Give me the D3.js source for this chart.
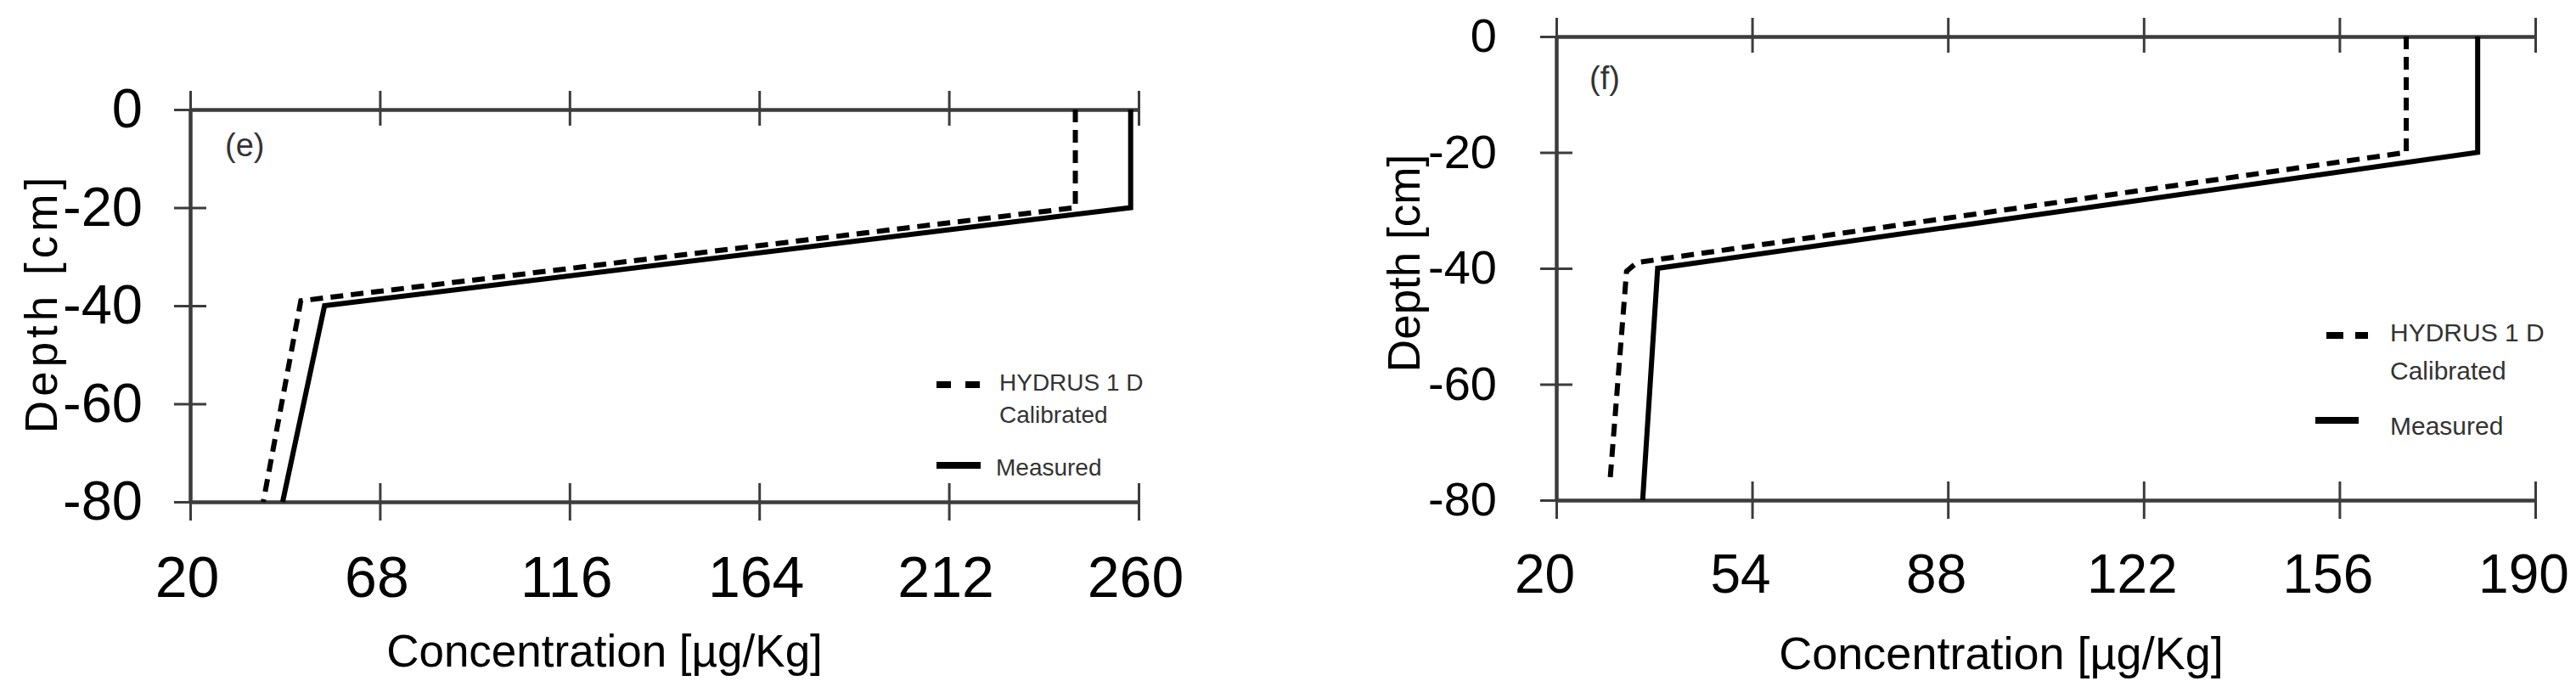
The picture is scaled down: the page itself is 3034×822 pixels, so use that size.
<!DOCTYPE html>
<html>
<head>
<meta charset="utf-8">
<script src="https://cdn.jsdelivr.net/npm/d3@7"></script>
<style>
  html, body { margin: 0; padding: 0; background: #fff; }
  svg { display: block; }
</style>
</head>
<body>
<script>
// ---------- DATA ----------
const depthTicks = [0, -20, -40, -60, -80];
const concTicksE = [20, 68, 116, 164, 212, 260];
const concTicksF = [20, 54, 88, 122, 156, 190];

const measuredDepthE = [0, -20, -40, -80];
const measuredConcE  = [258, 258, 54, 43.4];
const hydrusDepthE   = [0, -20, -39, -80];
const hydrusConcE    = [244, 244, 48, 38.5];

const measuredDepthF = [0, -20, -40, -80];
const measuredConcF  = [180, 180, 37.6, 35];
const hydrusDepthF   = [0, -20, -39, -40.5, -77];
const hydrusConcF    = [167.6, 167.6, 34, 32.2, 29.3];

const panelLabels = ["(e)", "(f)"];
const legendLabels = [["HYDRUS 1 D", "Calibrated"], ["Measured"]];
const xTitle = "Concentration [µg/Kg]";
const yTitle = "Depth [cm]";

// ---------- LAYOUT ----------
const W = 3034, H = 822;
const svg = d3.select("body").append("svg").attr("width", W).attr("height", H);
svg.append("rect").attr("width", W).attr("height", H).attr("fill", "#fff");

const FONT = "Arial, 'Liberation Sans', Helvetica, sans-serif";

const panels = [
  {
    xTicks: concTicksE, xRange: [224, 1341], yRange: [591, 129],
    series: [
      {c: measuredConcE, d: measuredDepthE, dash: null},
      {c: hydrusConcE, d: hydrusDepthE, dash: "15,9"}
    ],
    label: panelLabels[0], labelPos: [265, 184],
    xTickFont: 68, yTickFont: 65, yPad: 37, xLabelDx: -4,
    xTitlePos: [712, 785], xTitleFont: 53,
    yTitlePos: [67, 357], yTitleFont: 53, yTitleSpacing: 5,
    legend: {dash: [1103, 1155, 453], solid: [1103, 1155, 548], dashArr: "17,17",
             textX: 1177, textX2: 1173, base: [460, 498, 560], font: 28}
  },
  {
    xTicks: concTicksF, xRange: [1833, 2986], yRange: [589, 43],
    series: [
      {c: measuredConcF, d: measuredDepthF, dash: null},
      {c: hydrusConcF, d: hydrusDepthF, dash: "15,9"}
    ],
    label: panelLabels[1], labelPos: [1872, 105],
    xTickFont: 64, yTickFont: 56, yPad: 51, xLabelDx: -14,
    xTitlePos: [2357, 788], xTitleFont: 54,
    yTitlePos: [1672, 310], yTitleFont: 53, yTitleSpacing: 0,
    legend: {dash: [2740, 2789, 395], solid: [2727, 2778, 495], dashArr: "20,14",
             textX: 2815, textX2: 2815, base: [402, 447, 512], font: 30}
  }
];

const AX = "#3c3c3c";

function styleAxis(g, fontSize) {
  g.attr("font-family", FONT).attr("font-size", fontSize);
  g.selectAll(".domain").attr("stroke", AX).attr("stroke-width", 4);
  g.selectAll(".tick line").attr("stroke", AX).attr("stroke-width", 3);
  g.selectAll(".tick text").attr("fill", "#000");
}

panels.forEach(p => {
  const xDom = [p.xTicks[0], p.xTicks[p.xTicks.length - 1]];
  const x = d3.scaleLinear().domain(xDom).range(p.xRange);
  const y = d3.scaleLinear().domain([-80, 0]).range(p.yRange);
  const g = svg.append("g");

  // top axis (crossing ticks, no labels)
  g.append("g").attr("transform", `translate(0,${y(0)})`)
    .call(d3.axisTop(x).tickValues(p.xTicks).tickSize(22).tickSizeOuter(0).tickFormat(""))
    .call(s => styleAxis(s, 10));
  g.append("g").attr("transform", `translate(0,${y(0)})`)
    .call(d3.axisBottom(x).tickValues(p.xTicks).tickSize(19).tickSizeOuter(0).tickFormat(""))
    .call(s => styleAxis(s, 10));

  // bottom axis with labels
  g.append("g").attr("transform", `translate(0,${y(-80)})`)
    .call(d3.axisTop(x).tickValues(p.xTicks).tickSize(22).tickSizeOuter(0).tickFormat(""))
    .call(s => styleAxis(s, 10));
  const bx = g.append("g").attr("transform", `translate(0,${y(-80)})`)
    .call(d3.axisBottom(x).tickValues(p.xTicks).tickSize(22).tickPadding(42).tickSizeOuter(0).tickFormat(d3.format("d")))
    .call(s => styleAxis(s, p.xTickFont));
  bx.selectAll(".tick text").attr("dx", p.xLabelDx);

  // left axis with labels
  g.append("g").attr("transform", `translate(${x(xDom[0])},0)`)
    .call(d3.axisLeft(y).tickValues(depthTicks).tickSize(19).tickPadding(p.yPad).tickSizeOuter(0).tickFormat(d3.format("d")))
    .call(s => styleAxis(s, p.yTickFont));
  g.append("g").attr("transform", `translate(${x(xDom[0])},0)`)
    .call(d3.axisRight(y).tickValues(depthTicks).tickSize(19).tickSizeOuter(0).tickFormat(""))
    .call(s => styleAxis(s, 10));
  g.selectAll(".tick text").filter(function(){ return this.textContent.startsWith("−"); })
    .text(function(){ return this.textContent.replace("−", "-"); });

  // data lines
  const line = d3.line().x(d => x(d[0])).y(d => y(d[1]));
  p.series.forEach(s => {
    const pts = s.c.map((v, i) => [v, s.d[i]]);
    g.append("path").datum(pts)
      .attr("d", line)
      .attr("fill", "none")
      .attr("stroke", "#000")
      .attr("stroke-width", 6)
      .attr("stroke-linejoin", "miter")
      .attr("stroke-dasharray", s.dash);
  });

  // panel label
  g.append("text").attr("x", p.labelPos[0]).attr("y", p.labelPos[1])
    .attr("font-family", FONT).attr("font-size", 38).attr("fill", "#333")
    .text(p.label);

  // axis titles
  g.append("text").attr("x", p.xTitlePos[0]).attr("y", p.xTitlePos[1])
    .attr("text-anchor", "middle").attr("font-family", FONT)
    .attr("font-size", p.xTitleFont).attr("fill", "#000")
    .text(xTitle);
  g.append("text")
    .attr("transform", `translate(${p.yTitlePos[0]},${p.yTitlePos[1]}) rotate(-90)`)
    .attr("text-anchor", "middle").attr("font-family", FONT)
    .attr("font-size", p.yTitleFont).attr("letter-spacing", p.yTitleSpacing)
    .attr("fill", "#000")
    .text(yTitle);

  // legend
  const L = p.legend;
  g.append("line").attr("x1", L.dash[0]).attr("x2", L.dash[1]).attr("y1", L.dash[2]).attr("y2", L.dash[2])
    .attr("stroke", "#000").attr("stroke-width", 8).attr("stroke-dasharray", L.dashArr);
  g.append("line").attr("x1", L.solid[0]).attr("x2", L.solid[1]).attr("y1", L.solid[2]).attr("y2", L.solid[2])
    .attr("stroke", "#000").attr("stroke-width", 8);
  g.append("text").attr("x", L.textX).attr("y", L.base[0])
    .attr("font-family", FONT).attr("font-size", L.font).attr("fill", "#333").text(legendLabels[0][0]);
  g.append("text").attr("x", L.textX).attr("y", L.base[1])
    .attr("font-family", FONT).attr("font-size", L.font).attr("fill", "#333").text(legendLabels[0][1]);
  g.append("text").attr("x", L.textX2).attr("y", L.base[2])
    .attr("font-family", FONT).attr("font-size", L.font).attr("fill", "#333").text(legendLabels[1][0]);
});
</script>
</body>
</html>
